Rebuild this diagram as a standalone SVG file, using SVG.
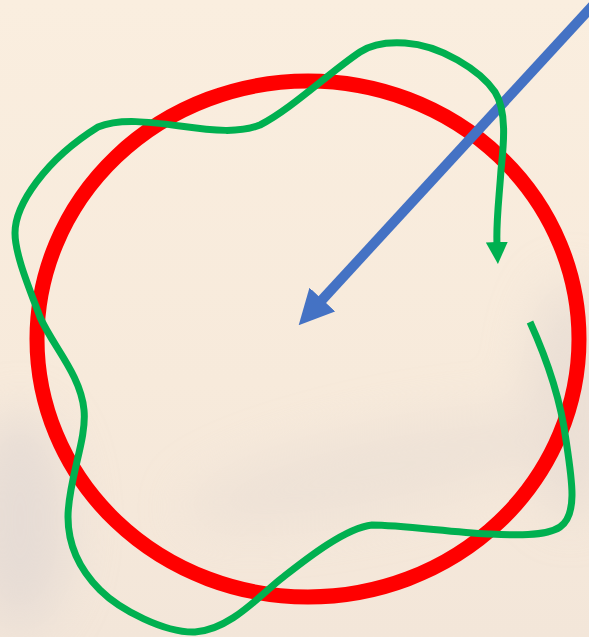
<svg xmlns="http://www.w3.org/2000/svg" width="589" height="637" viewBox="0 0 589 637">
<defs>
<style>
.ring{fill:none;stroke:#FF0000;stroke-width:15}
.blue{fill:none;stroke:#4472C4;stroke-width:10}
.green{fill:none;stroke:#00B050;stroke-width:7;stroke-linecap:butt;stroke-linejoin:round}
</style>
<linearGradient id="bg" x1="0" y1="0" x2="0" y2="1">
<stop offset="0" stop-color="#FAEEDF"/>
<stop offset="0.6" stop-color="#F7EADB"/>
<stop offset="1" stop-color="#F3E6D9"/>
</linearGradient>
<filter id="blur" x="-50%" y="-50%" width="200%" height="200%"><feGaussianBlur stdDeviation="25"/></filter>
<marker id="ab" viewBox="0 0 35 35" refX="2" refY="17.5" markerWidth="35" markerHeight="35" markerUnits="userSpaceOnUse" orient="auto"><path d="M0,0 L35,17.5 L0,35 z" fill="#4472C4"/></marker>
<marker id="ag" viewBox="0 0 22 22" refX="2" refY="11" markerWidth="22" markerHeight="22" markerUnits="userSpaceOnUse" orient="auto"><path d="M0,0 L22,11 L0,22 z" fill="#00B050"/></marker>
</defs>
<rect width="589" height="637" fill="url(#bg)"/>
<g filter="url(#blur)" opacity="0.5">
<ellipse cx="20" cy="520" rx="50" ry="110" fill="#D8D0D0"/>
<ellipse cx="570" cy="400" rx="40" ry="120" fill="#DCD2CE"/>
<ellipse cx="380" cy="470" rx="200" ry="40" fill="#E6DBD3" transform="rotate(-12 380 470)"/>
</g>
<g id="ring"><ellipse class="ring" cx="308" cy="339" rx="271" ry="258"/></g>
<g id="connectors">
<path id="blue-arrow" class="blue" d="M596,2 L321,301" marker-end="url(#ab)"/>
<path id="green-loop" class="green" marker-end="url(#ag)" d="M530,322 C545,355 560,395 566,440 C572,480 578,515 560,527 C545,537 510,535 488,534 C450,532 400,525 372,525 C345,528 305,560 282,578 C260,595 230,630 195,632 C165,633 120,610 100,590 C80,570 68,545 68,517 C68,480 87,440 84,410 C81,375 52,345 40,317 C30,290 15,255 15,233 C15,205 45,160 98,127 C120,118 150,122 180,126 C215,131 240,133 260,125 C290,110 330,72 360,52 C372,44 390,42 405,43 C440,45 480,70 495,92 C508,112 503,150 501,170 C499,200 496,222 497,244"/>
</g>
</svg>
